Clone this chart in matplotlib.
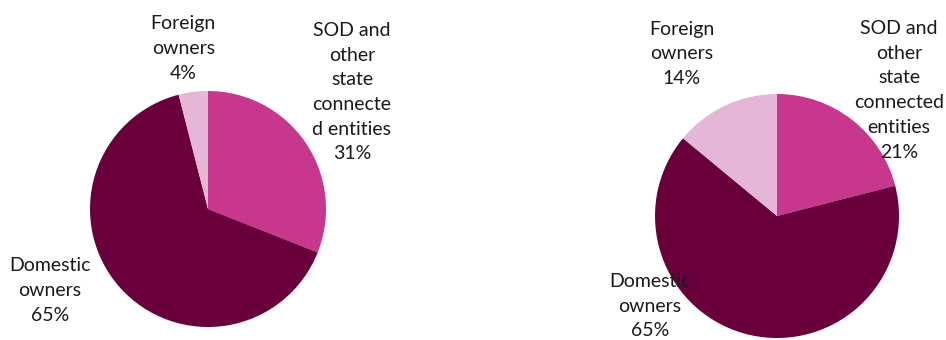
import matplotlib.pyplot as plt

# ownership shares, two snapshots
categories = ["SOD and other state connected entities", "Domestic owners", "Foreign owners"]
shares_left = [31, 65, 4]
shares_right = [21, 65, 14]

labels_left = ["SOD and\nother\nstate\nconnecte\nd entities", "Domestic\nowners", "Foreign\nowners"]
labels_right = ["SOD and\nother\nstate\nconnected\nentities", "Domestic\nowners", "Foreign\nowners"]

colors = ["#C8378E", "#6A003B", "#E6B6D6"]

W, H = 946, 340
fig = plt.figure(figsize=(W / 100, H / 100), dpi=100)
ax = fig.add_axes([0, 0, 1, 1])
ax.set_xlim(0, W)
ax.set_ylim(0, H)
ax.set_aspect("equal")
ax.axis("off")

plt.rcParams["font.family"] = ["Lato", "DejaVu Sans"]


def draw(shares, labels, center, radius, offsets):
    ax.pie(shares, colors=colors, startangle=90, counterclock=False,
           center=center, radius=radius, frame=True,
           wedgeprops=dict(linewidth=0))
    for lab, val, (dx, dy) in zip(labels, shares, offsets):
        ax.text(center[0] + dx * radius, center[1] + dy * radius,
                f"{lab}\n{val}%", ha="center", va="center",
                fontsize=14, linespacing=1.55, color="#1a1a1a",
                family=["Lato", "DejaVu Sans"])


draw(shares_left, labels_left, (208, H - 209), 118,
     [(1.22, 0.99), (-1.34, -0.69), (-0.21, 1.36)])
draw(shares_right, labels_right, (777, H - 216), 122,
     [(1.0, 1.03), (-1.04, -0.74), (-0.78, 1.33)])

ax.set_xlim(0, W)
ax.set_ylim(0, H)
ax.axis("off")

fig.savefig("out.png", dpi=100)
